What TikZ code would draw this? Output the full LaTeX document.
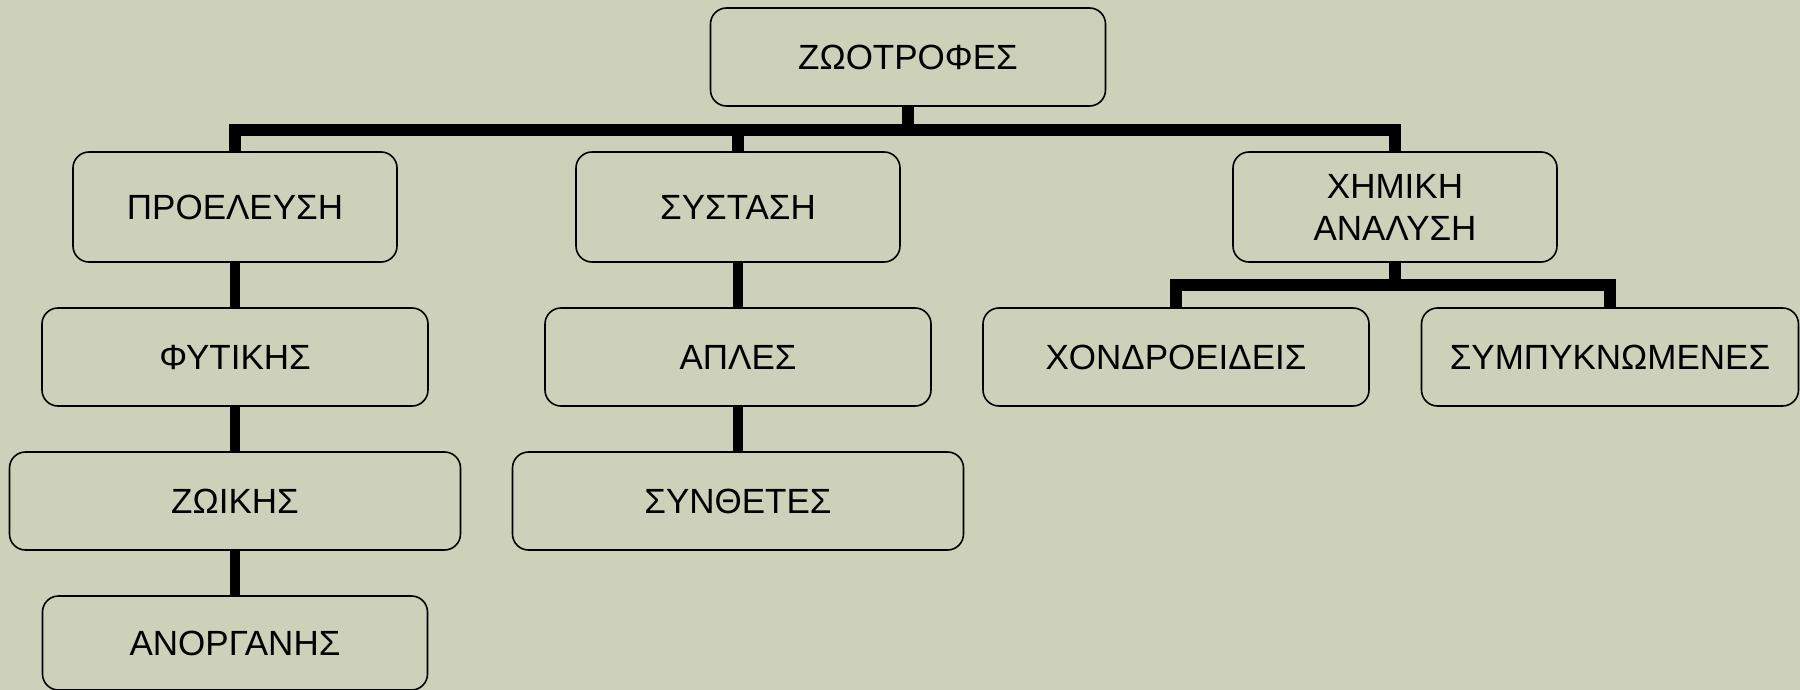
\documentclass[tikz,border=0pt]{standalone}
\usepackage{fontspec}
\setmainfont{Liberation Sans}
\usetikzlibrary{positioning}
\definecolor{sage}{RGB}{205,209,186}

\begin{document}
\begin{tikzpicture}[
        box/.style = {draw, line width = 0.8pt, rounded corners = 8pt, inner sep = 0pt,
            align = center, font = \fontsize{17.5}{21}\selectfont},
        trunk/.style = {line width = 6pt, line join = miter},
        link/.style = {line width = 5pt},
    ]
        \fill[sage] (0,0) rectangle (900pt,-345pt);
        \useasboundingbox (0,0) rectangle (900pt,-345pt);
        \node [box, minimum width = 197.5pt, minimum height = 49pt] (root) at (454pt,-28.5pt) {ΖΩΟΤΡΟΦΕΣ};
        \node [box, minimum width = 162pt, minimum height = 55pt, below = 22.2pt of root, xshift = -336.5pt] (orig) {ΠΡΟΕΛΕΥΣΗ};
        \node [box, minimum width = 162pt, minimum height = 55pt, below = 22.2pt of root, xshift = -85pt] (comp) {ΣΥΣΤΑΣΗ};
        \node [box, minimum width = 162pt, minimum height = 55pt, below = 22.2pt of root, xshift = 243.5pt] (chem) {ΧΗΜΙΚΗ\\ΑΝΑΛΥΣΗ};
        \node [box, minimum width = 193pt, minimum height = 49pt, below = 22.2pt of orig] (plant) {ΦΥΤΙΚΗΣ};
        \node [box, minimum width = 225.5pt, minimum height = 49pt, below = 22.2pt of plant] (animal) {ΖΩΙΚΗΣ};
        \node [box, minimum width = 192.5pt, minimum height = 47pt, below = 22.2pt of animal] (inorg) {ΑΝΟΡΓΑΝΗΣ};
        \node [box, minimum width = 193pt, minimum height = 49pt, below = 22.2pt of comp] (simple) {ΑΠΛΕΣ};
        \node [box, minimum width = 225.5pt, minimum height = 49pt, below = 22.2pt of simple] (complex) {ΣΥΝΘΕΤΕΣ};
        \node [box, minimum width = 193pt, minimum height = 49pt, below = 22.2pt of chem, xshift = -109.5pt] (bulk) {ΧΟΝΔΡΟΕΙΔΕΙΣ};
        \node [box, minimum width = 188.5pt, minimum height = 49pt, below = 22.2pt of chem, xshift = 107.5pt] (conc) {ΣΥΜΠΥΚΝΩΜΕΝΕΣ};
        \draw [trunk] (root.south) -- ++(0,-11.5pt) coordinate (bar);
        \draw [trunk] (orig.north) |- (bar) -| (chem.north);
        \draw [trunk] (comp.north) -- (comp.north |- bar);
        \draw [trunk] (chem.south) -- ++(0,-11.25pt) coordinate (subbar);
        \draw [trunk] (bulk.north) |- (subbar) -| (conc.north);
        \draw [link] (orig) -- (plant);
        \draw [link] (plant) -- (animal);
        \draw [link] (animal) -- (inorg);
        \draw [link] (comp) -- (simple);
        \draw [link] (simple) -- (complex);
    \end{tikzpicture}
\end{document}
